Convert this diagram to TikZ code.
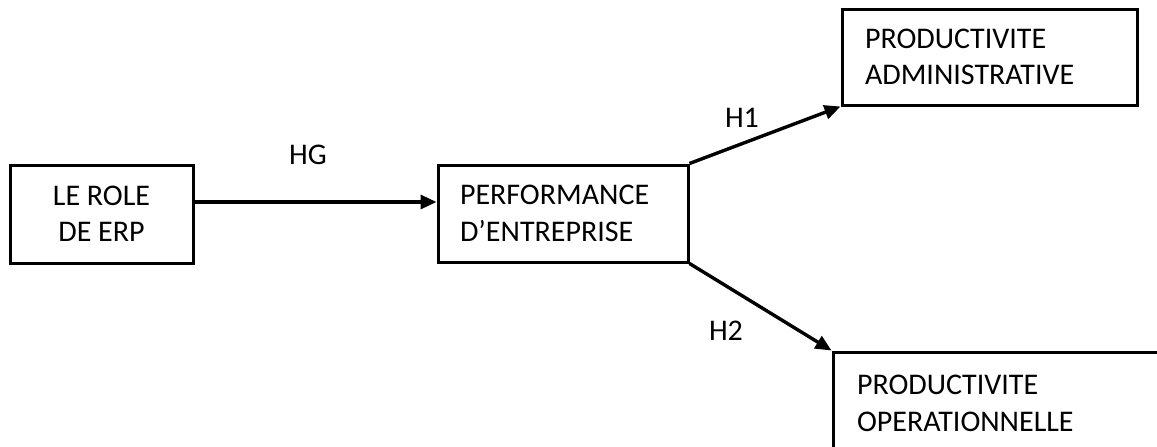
\documentclass[tikz,border=0pt]{standalone}
\usepackage{fontspec}
\setmainfont{Carlito}
\usetikzlibrary{arrows.meta}
\begin{document}
\begin{tikzpicture}[x=1pt,y=-1pt,
  box/.style={draw=black, line width=3pt, fill=white, inner sep=0pt,
    font=\fontsize{30}{36.5}\selectfont},
  lbl/.style={font=\fontsize{30}{36}\selectfont, inner sep=0pt},
  link/.style={line width=3.4pt, -{Triangle[length=16pt,width=14pt]}}]
\useasboundingbox (0,0) rectangle (1157,447);
\clip (0,0) rectangle (1157,447);
% boxes
\node[box, minimum width=183pt, minimum height=98pt, align=center] (erp) at (101.5,214) {LE ROLE\\DE ERP};
\node[box, minimum width=250pt, minimum height=97pt, text width=206pt, align=left] (perf) at (563,213.5) {PERFORMANCE\\D’ENTREPRISE};
\node[box, minimum width=295pt, minimum height=96pt, text width=249pt, align=left] (adm) at (989.5,57) {PRODUCTIVITE\\ADMINISTRATIVE};
\node[box, minimum width=380pt, minimum height=103pt, text width=332pt, align=left] (ope) at (1023,403.5) {PRODUCTIVITE\\OPERATIONNELLE};
% connectors
\draw[link] ([yshift=12pt]erp.east) -- ([yshift=11.5pt]perf.west);
\draw[link] (perf.north east) -- (adm.south west);
\draw[link] (perf.south east) -- (ope.north west);
% hypothesis labels
\node[lbl] (hg) at (308,155) {HG};
\node[lbl] (h1) at (742,118) {H1};
\node[lbl] (h2) at (726,331) {H2};
\end{tikzpicture}
\end{document}
